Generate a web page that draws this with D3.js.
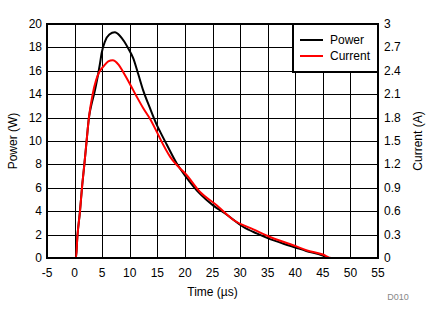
<!DOCTYPE html>
<html><head><meta charset="utf-8">
<script src="https://cdn.jsdelivr.net/npm/d3@7"></script>
<style>body{margin:0;background:#fff}svg{display:block}text{font-family:"Liberation Sans",Arial,sans-serif}</style>
</head><body>
<svg id="c" width="434" height="324"></svg>
<script>
const xTicks = [-5,0,5,10,15,20,25,30,35,40,45,50,55];
const yLeftTicks = [0,2,4,6,8,10,12,14,16,18,20];
const yRightTicks = ["0","0.3","0.6","0.9","1.2","1.5","1.8","2.1","2.4","2.7","3"];
const powerTime = [-5,0.26,0.5,0.98,1.34,1.77,2.18,2.6,3.1,3.58,3.9,4.6,4.9,5.5,6.3,7.3,8.2,9.0,9.74,10.64,11.55,12.45,13.67,14.88,15.5,16.7,18.5,20.1,22.7,25.1,27.6,30.6,33,35,38,40,42,45,45.8,55];
const powerW = [0,0,1.8,4,6,8,10,12,13.2,14.1,14.8,16.6,17.5,18.5,19.1,19.29,19.0,18.5,17.9,17.07,15.7,14.3,12.8,11.4,10.8,9.7,8.1,7.0,5.5,4.5,3.7,2.65,2.1,1.7,1.2,0.9,0.6,0.2,0,0];
const currentTime = [-5,0.26,0.5,0.98,1.34,1.77,2.18,2.6,3.28,3.9,4.6,5.2,6.1,6.9,8.0,8.8,10.0,11.25,12.45,13.67,14.88,15.5,17.3,19.1,20.1,22.7,25.7,28.8,32.4,35,40,42,45,46.6,55];
const currentA = [0,0,0.27,0.6,0.9,1.2,1.5,1.8,2.1,2.28,2.4,2.4525,2.52,2.535,2.475,2.385,2.235,2.07,1.92,1.785,1.62,1.53,1.3,1.15,1.08,0.85,0.68,0.4875,0.3675,0.282,0.155,0.1,0.045,0,0];
const series = ["Power","Current"];

const L=47,R=378,T=24,B=258;
const svg=d3.select("#c");
const x=d3.scaleLinear().domain([-5,55]).range([L,R]);
const yL=d3.scaleLinear().domain([0,20]).range([B,T]);
const yR=d3.scaleLinear().domain([0,3]).range([B,T]);

// grid
const g=svg.append("g");
g.selectAll("line.vx").data(xTicks).join("line")
 .attr("x1",d=>Math.round(x(d))+0.5).attr("x2",d=>Math.round(x(d))+0.5)
 .attr("y1",T).attr("y2",B).attr("stroke","#000").attr("stroke-width",1);
g.selectAll("line.hy").data(yLeftTicks).join("line")
 .attr("y1",d=>Math.round(yL(d))+0.5).attr("y2",d=>Math.round(yL(d))+0.5)
 .attr("x1",L).attr("x2",R).attr("stroke","#000").attr("stroke-width",1);

// axes labels
const fs=12;
svg.append("g").selectAll("text").data(xTicks).join("text")
 .attr("x",d=>x(d)).attr("y",B+19).attr("text-anchor","middle").attr("font-size",fs).text(d=>d);
svg.append("g").selectAll("text").data(yLeftTicks).join("text")
 .attr("x",L-5).attr("y",d=>yL(d)+4).attr("text-anchor","end").attr("font-size",fs).text(d=>d);
svg.append("g").selectAll("text").data(yRightTicks).join("text")
 .attr("x",R+6).attr("y",d=>yR(+d)+4).attr("text-anchor","start").attr("font-size",fs).text(d=>d);

svg.append("text").attr("x",(L+R)/2).attr("y",296).attr("text-anchor","middle").attr("font-size",fs).text("Time (µs)");
svg.append("text").attr("transform",`translate(17,${(T+B)/2}) rotate(-90)`).attr("text-anchor","middle").attr("font-size",fs).text("Power (W)");
svg.append("text").attr("transform",`translate(422,${(T+B)/2}) rotate(-90)`).attr("text-anchor","middle").attr("font-size",fs).text("Current (A)");
svg.append("text").attr("x",398).attr("y",300).attr("text-anchor","middle").attr("font-size",9).attr("fill","#888").text("D010");

// lines
const lp=d3.line().curve(d3.curveMonotoneX).x((d,i)=>x(powerTime[i])).y(d=>yL(d));
const lc=d3.line().curve(d3.curveMonotoneX).x((d,i)=>x(currentTime[i])).y(d=>yR(d));
svg.append("path").attr("d",lp(powerW)).attr("fill","none").attr("stroke","#000").attr("stroke-width",2);
svg.append("path").attr("d",lc(currentA)).attr("fill","none").attr("stroke","#f00").attr("stroke-width",2);

// frame
svg.append("rect").attr("x",L).attr("y",T).attr("width",R-L).attr("height",B-T).attr("fill","none").attr("stroke","#000").attr("stroke-width",2);

// legend
const lg=svg.append("g");
lg.append("rect").attr("x",293).attr("y",T).attr("width",R-293).attr("height",48).attr("fill","#fff").attr("stroke","#000").attr("stroke-width",2);
const colors=["#000","#f00"];
series.forEach((s,i)=>{
  const yy=40+i*16;
  lg.append("line").attr("x1",300).attr("x2",323).attr("y1",yy).attr("y2",yy).attr("stroke",colors[i]).attr("stroke-width",2);
  lg.append("text").attr("x",330).attr("y",yy+4).attr("font-size",fs).text(s);
});
</script>
</body></html>
